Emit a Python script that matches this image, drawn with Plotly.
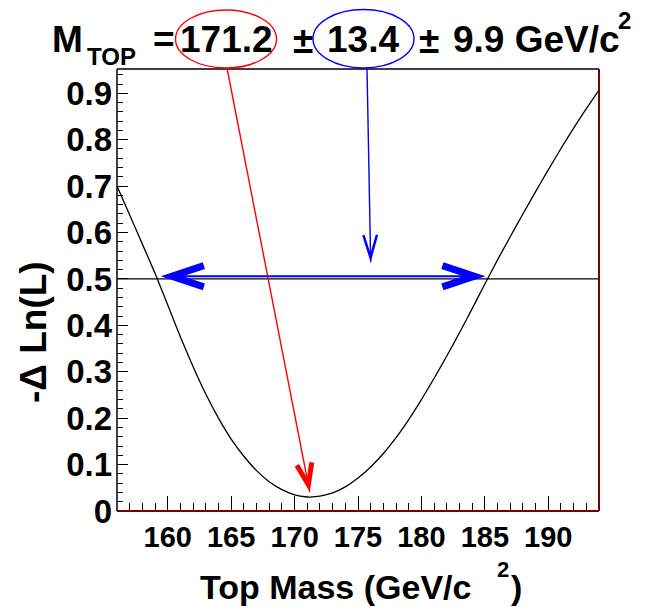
import math
import plotly.graph_objects as go

# ---- likelihood scan: -Delta ln(L) versus top mass ----
mass = [156, 157, 158, 159, 160, 161, 162, 163, 164, 165, 166, 167, 168, 169,
        170, 171, 171.2, 172, 173, 174, 175, 176, 177, 178, 179, 180, 181, 182,
        183, 184, 185, 186, 187, 188, 189, 190, 191, 192, 193, 194]
neg_dlnl = [0.700, 0.638, 0.575, 0.512, 0.444, 0.375, 0.311, 0.252, 0.200,
            0.155, 0.118, 0.087, 0.063, 0.046, 0.035, 0.0302, 0.030, 0.032,
            0.039, 0.052, 0.071, 0.095, 0.124, 0.158, 0.197, 0.240, 0.286,
            0.334, 0.384, 0.436, 0.489, 0.541, 0.591, 0.640, 0.688, 0.735,
            0.781, 0.825, 0.867, 0.907]

# fit result
fit_mass = 171.2
stat_err = 13.4
syst_err = 9.9
level = 0.5                      # -Delta ln(L) = 1/2
interval = [159.45, 185.05]      # arrow tips at the 1/2 crossings
stat_arrow_tip = [176.0, 0.536]  # tip of the arrow from the stat. error

x_ticks = [160, 165, 170, 175, 180, 185, 190]
y_ticks = [0, 0.1, 0.2, 0.3, 0.4, 0.5, 0.6, 0.7, 0.8, 0.9]
y_ticktext = ["0", "0.1", "0.2", "0.3", "0.4", "0.5", "0.6", "0.7", "0.8", "0.9"]

# ---- canvas geometry ----
W, H = 647, 607
ML, MR, MT, MB = 117, 48, 69, 96
PW, PH = W - ML - MR, H - MT - MB
x_range = [156, 194]
y_range = [0, max(neg_dlnl) * 1.05]

FONT = "Liberation Sans, Arial, Helvetica, sans-serif"
RED = "#ff0000"
BLUE = "#0000ff"
FRAME_RED = "#7a0000"


def xpx(v):
    return ML + (v - x_range[0]) / (x_range[1] - x_range[0]) * PW


def ypx(v):
    return MT + (1 - (v - y_range[0]) / (y_range[1] - y_range[0])) * PH


def px_paper(px, py):
    return (px - ML) / PW, (H - MB - py) / PH


def chevron(tail, tip, length, half_w, thick, dy=0.0):
    """Thick open arrowhead (pixel path relative to the tip, y up)."""
    dxs, dys = tip[0] - tail[0], tip[1] - tail[1]
    n = math.hypot(dxs, dys)
    d = (dxs / n, dys / n)
    b = (-d[0], -d[1])
    perp = (-d[1], d[0])
    pts_outer = []
    for s in (1, -1):
        p = (b[0] * length + s * perp[0] * half_w, b[1] * length + s * perp[1] * half_w)
        pts_outer.append(p)
    wl = math.hypot(length, half_w)
    sin_t = half_w / wl
    inner = (b[0] * thick / sin_t, b[1] * thick / sin_t)

    def inward(p, s):
        u = (p[0] / wl, p[1] / wl)
        m = (u[1], -u[0]) if s == 1 else (-u[1], u[0])
        # choose the normal that points toward the arrow axis
        if m[0] * perp[0] * s + m[1] * perp[1] * s > 0:
            m = (-m[0], -m[1])
        return (p[0] + m[0] * thick, p[1] + m[1] * thick)

    p1, p2 = pts_outer
    poly = [(0, 0), p1, inward(p1, 1), inner, inward(p2, -1), p2]
    return "M " + " L ".join(f"{x:.2f},{-(y) + dy:.2f}" for x, y in poly) + " Z"


fig = go.Figure()

# the scan curve
fig.add_trace(go.Scatter(
    x=mass, y=neg_dlnl, mode="lines",
    line=dict(color="black", width=1.3, shape="spline", smoothing=0.6),
    hoverinfo="skip", showlegend=False,
))

shapes = []
annotations = []

# horizontal line at -Delta ln(L) = 0.5
shapes.append(dict(type="line", xref="x", yref="y", x0=x_range[0], x1=x_range[1],
                   y0=level, y1=level, line=dict(color="black", width=1.2)))

# frame
shapes += [
    dict(type="line", xref="paper", yref="paper", x0=0, x1=0, y0=0, y1=1,
         line=dict(color="black", width=1.5)),
    dict(type="line", xref="paper", yref="paper", x0=0, x1=1, y0=1, y1=1,
         line=dict(color="black", width=1.5)),
    dict(type="line", xref="paper", yref="paper", x0=1, x1=1, y0=0, y1=1,
         line=dict(color=FRAME_RED, width=2)),
    dict(type="line", xref="paper", yref="paper", x0=0, x1=1, y0=0, y1=0,
         line=dict(color=FRAME_RED, width=2)),
]

# ellipses around the central value and the statistical error
ell_red = (175.5, 10, 276.5, 68)
ell_blue = (313, 9.5, 414, 68)
for (x0, y0, x1, y1), col in ((ell_red, RED), (ell_blue, BLUE)):
    a0 = px_paper(x0, y1)
    a1 = px_paper(x1, y0)
    shapes.append(dict(type="circle", xref="paper", yref="paper",
                       x0=a0[0], y0=a0[1], x1=a1[0], y1=a1[1],
                       line=dict(color=col, width=1.4)))

# red arrow: central value -> minimum of the curve
red_tail = (227.0, 68.0)
red_tip = (xpx(fit_mass), ypx(min(neg_dlnl)) - 5)
t0 = px_paper(*red_tail)
t1 = px_paper(*red_tip)
shapes.append(dict(type="line", xref="paper", yref="paper", x0=t0[0], y0=t0[1],
                   x1=t1[0], y1=t1[1], line=dict(color=RED, width=1.4)))
shapes.append(dict(type="path", xref="paper", yref="paper",
                   xsizemode="pixel", ysizemode="pixel",
                   xanchor=t1[0], yanchor=t1[1],
                   path=chevron(red_tail, red_tip, 28, 10, 5),
                   fillcolor=RED, line=dict(width=0)))

# blue arrow: statistical error -> the 1/2 interval
blue_tail = (367.0, 68.0)
blue_tip = (xpx(stat_arrow_tip[0]), ypx(stat_arrow_tip[1]))
t0 = px_paper(*blue_tail)
t1 = px_paper(*blue_tip)
shapes.append(dict(type="line", xref="paper", yref="paper", x0=t0[0], y0=t0[1],
                   x1=t1[0], y1=t1[1], line=dict(color=BLUE, width=1.4)))
shapes.append(dict(type="path", xref="paper", yref="paper",
                   xsizemode="pixel", ysizemode="pixel",
                   xanchor=t1[0], yanchor=t1[1],
                   path=chevron(blue_tail, blue_tip, 27, 8, 2.5),
                   fillcolor=BLUE, line=dict(width=0)))

# double-headed blue arrow spanning the interval
lift = 2.7
shapes.append(dict(type="line", xref="x", yref="y", ysizemode="pixel", yanchor=level,
                   x0=interval[0] + 1.2, x1=interval[1] - 1.2, y0=lift, y1=lift,
                   line=dict(color=BLUE, width=2)))
for i, j in ((0, 1), (1, 0)):
    tip = (xpx(interval[i]), 0.0)
    tail = (xpx(interval[j]), 0.0)
    shapes.append(dict(type="path", xref="x", yref="y",
                       xsizemode="pixel", ysizemode="pixel",
                       xanchor=interval[i], yanchor=level,
                       path=chevron(tail, tip, 42, 14, 7, dy=lift),
                       fillcolor=BLUE, line=dict(width=0)))


def text(s, cx, cy, size, angle=0):
    px, py = px_paper(cx, cy)
    annotations.append(dict(text=s, x=px, y=py, xref="paper", yref="paper",
                            xanchor="center", yanchor="middle", showarrow=False,
                            textangle=angle,
                            font=dict(family=FONT, size=size, color="black",
                                      weight="bold")))


# headline: M_TOP = 171.2 ± 13.4 ± 9.9 GeV/c^2
text("M", 67, 39, 37)
text("TOP", 111.5, 56, 24)
text("=", 163.5, 39, 37)
text(f"{fit_mass:.1f}", 226.5, 39, 37)
text("±", 302.5, 40, 37)
text(f"{stat_err:.1f}", 362.5, 39, 37)
text("±", 428.5, 40, 37)
text(f"{syst_err:.1f} GeV/c", 536, 39, 37)
text("2", 624, 21, 24)

# axis titles
text("Top Mass (GeV/c", 335, 587, 34)
text("2", 503, 569, 22)
text(")", 516, 587, 34)
text("-Δ Ln(L)", 33, 332, 37, angle=-90)

fig.update_layout(
    width=W, height=H,
    margin=dict(l=ML, r=MR, t=MT, b=MB, pad=0),
    paper_bgcolor="white", plot_bgcolor="white",
    showlegend=False,
    shapes=shapes,
    annotations=annotations,
    xaxis=dict(
        range=x_range, tickvals=x_ticks, ticks="inside", ticklen=15, tickwidth=1,
        tickcolor="black", showgrid=False, zeroline=False, showline=False,
        tickfont=dict(family=FONT, size=29, color="black", weight="bold"),
        ticklabelstandoff=6,
        minor=dict(ticks="inside", ticklen=8, dtick=1, tick0=156,
                   tickcolor="black", tickwidth=1, showgrid=False),
    ),
    yaxis=dict(
        range=y_range, tickvals=y_ticks, ticktext=y_ticktext, ticks="inside",
        ticklen=11, tickwidth=1, tickcolor="black", showgrid=False,
        zeroline=False, showline=False,
        tickfont=dict(family=FONT, size=33, color="black", weight="bold"),
        ticklabelstandoff=4,
        minor=dict(ticks="inside", ticklen=5.5, dtick=0.02, tick0=0,
                   tickcolor="black", tickwidth=1, showgrid=False),
    ),
)

fig.write_html("out.html")
